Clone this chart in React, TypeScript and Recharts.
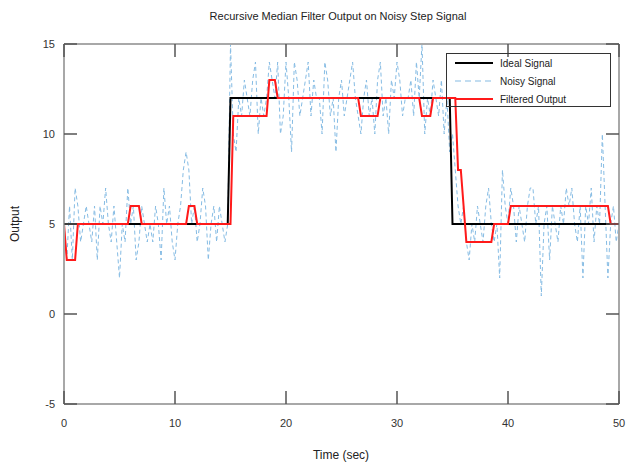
import React from 'react';
import { LineChart, Line, XAxis, YAxis, Legend } from 'recharts';

// ---- data ----
const SAMPLE_STEP = 0.25; // seconds between noisy samples

// noisy measurements, one per 0.25 s, t = 0 .. 50
const noisySignal: number[] = [
  // 0 - 15 s
  5, 3, 6, 3, 7, 6, 4, 5, 6, 5, 4, 6, 3, 6, 5, 7,
  5, 4, 6, 4, 2, 5, 4, 7, 5, 6, 3, 4, 6, 5, 4, 5,
  4, 6, 5, 3, 7, 5, 6, 4, 3, 5, 6, 8, 9, 8, 5, 6,
  4, 5, 7, 6, 3, 5, 6, 4, 6, 5, 4, 5,
  // 15 - 35 s
  15, 10, 9, 12, 11, 13, 12, 11, 13, 14, 10, 12, 11, 12, 14, 13,
  12, 14, 10, 11, 14, 12, 9, 14, 13, 11, 12, 13, 14, 11, 13, 12,
  12, 10, 14, 13, 11, 12, 9, 12, 13, 11, 12, 13, 14, 12, 11, 10,
  12, 13, 11, 12, 10, 13, 14, 11, 12, 10, 13, 12, 14, 13, 11, 12,
  12, 13, 11, 14, 12, 15, 10, 12, 11, 13, 12, 11, 13, 10, 12, 9,
  // 35 - 50 s
  10, 8, 6, 5, 6, 4, 3, 5, 4, 6, 5, 4, 6, 7, 5, 4,
  5, 2, 8, 6, 5, 7, 6, 4, 6, 5, 4, 6, 7, 7, 5, 6,
  1, 5, 6, 3, 6, 5, 4, 6, 5, 7, 6, 7, 5, 4, 6, 2,
  6, 5, 7, 4, 6, 5, 10, 6, 2, 5, 6, 4, 5,
];

const idealTimes = [0, 14.75, 15, 34.75, 35, 50];
const idealValues = [5, 5, 12, 12, 5, 5];

const filteredTimes = [
  0, 0.25, 1, 1.25, 5.75, 6, 6.75, 7, 11, 11.25, 11.75, 12, 15, 15.25, 18.25, 18.5,
  19, 19.25, 26.5, 26.75, 28.25, 28.5, 32, 32.25, 33, 33.25, 35.25, 35.5, 35.75,
  36.25, 38.5, 38.75, 40, 40.25, 49, 49.25, 50,
];
const filteredValues = [
  5, 3, 3, 5, 5, 6, 6, 5, 5, 6, 6, 5, 5, 11, 11, 13,
  13, 12, 12, 11, 11, 12, 12, 11, 11, 12, 12, 8, 8,
  4, 4, 5, 5, 6, 6, 5, 5,
];

const xTicks = [0, 10, 20, 30, 40, 50];
const yTicks = [-5, 0, 5, 10, 15];

const seriesNames = ['Ideal Signal', 'Noisy Signal', 'Filtered Output'];

// ---- derived tables ----
const noisyData = noisySignal.map((v, i) => ({ t: i * SAMPLE_STEP, v }));
const idealData = idealTimes.map((t, i) => ({ t, v: idealValues[i] }));
const filteredData = filteredTimes.map((t, i) => ({ t, v: filteredValues[i] }));

// ---- styles ----
const FONT = '"Liberation Sans", Arial, sans-serif';
const FRAME = '#a8a8a8';
const TICK_COLOR = '#555555';
const TICK_LEN = 13;
const LABEL_COLOR = '#333333';
const NOISY_COLOR = '#86bce4';
const IDEAL_COLOR = '#000000';
const FILTER_COLOR = '#ff1a1a';

const legendStyles: Record<string, { stroke: string; width: number; dash?: string }> = {
  'Ideal Signal': { stroke: IDEAL_COLOR, width: 2 },
  'Noisy Signal': { stroke: NOISY_COLOR, width: 1.2, dash: '6 4' },
  'Filtered Output': { stroke: FILTER_COLOR, width: 2 },
};

const BottomTick = (props: any) => {
  const { x, y, payload } = props;
  return (
    <g>
      <line x1={x} y1={y} x2={x} y2={y - TICK_LEN} stroke={TICK_COLOR} strokeWidth={1.5} />
      <text x={x} y={y + 23} textAnchor="middle" fontSize={11} fill={LABEL_COLOR} fontFamily={FONT}>
        {payload.value}
      </text>
    </g>
  );
};

const TopTick = (props: any) => {
  const { x, y } = props;
  return <line x1={x} y1={y} x2={x} y2={y + TICK_LEN} stroke={TICK_COLOR} strokeWidth={1.5} />;
};

const LeftTick = (props: any) => {
  const { x, y, payload } = props;
  return (
    <g>
      <line x1={x} y1={y} x2={x + TICK_LEN} y2={y} stroke={TICK_COLOR} strokeWidth={1.5} />
      <text x={x - 9} y={y + 4} textAnchor="end" fontSize={11} fill={LABEL_COLOR} fontFamily={FONT}>
        {payload.value}
      </text>
    </g>
  );
};

const RightTick = (props: any) => {
  const { x, y } = props;
  return <line x1={x} y1={y} x2={x - TICK_LEN} y2={y} stroke={TICK_COLOR} strokeWidth={1.5} />;
};

const renderLegend = () => (
  <div
    style={{
      width: 163,
      height: 52,
      border: '1px solid #333',
      fontFamily: FONT,
      fontSize: 10,
      color: '#222',
    }}
  >
    {seriesNames.map((name) => {
      const s = legendStyles[name];
      return (
        <div key={name} style={{ display: 'flex', alignItems: 'center', height: 18 }}>
          <svg width={50} height={10} style={{ display: 'block' }}>
            <line x1={8} x2={46} y1={5} y2={5} stroke={s.stroke} strokeWidth={s.width} strokeDasharray={s.dash} />
          </svg>
          <span style={{ marginLeft: 3 }}>{name}</span>
        </div>
      );
    })}
  </div>
);

export default function App() {
  return (
    <div style={{ position: 'absolute', left: 0, top: 0, width: 626, height: 466, fontFamily: FONT, background: '#fff' }}>
      <div
        style={{
          position: 'absolute', left: 50, width: 576, top: 10, textAlign: 'center',
          fontSize: 11, lineHeight: '13px', color: '#222',
        }}
      >
        Recursive Median Filter Output on Noisy Step Signal
      </div>
      <LineChart width={626} height={466} margin={{ top: 0, right: 0, bottom: 0, left: 0 }}>
        <XAxis
          xAxisId="bottom"
          dataKey="t"
          type="number"
          domain={[0, 50]}
          ticks={xTicks}
          allowDataOverflow
          orientation="bottom"
          height={62}
          tickSize={0}
          tickMargin={0}
          tick={<BottomTick />}
          axisLine={{ stroke: FRAME, strokeWidth: 2 }}
          interval={0}
        />
        <XAxis
          xAxisId="top"
          dataKey="t"
          type="number"
          domain={[0, 50]}
          ticks={xTicks}
          allowDataOverflow
          orientation="top"
          height={44}
          tickSize={0}
          tickMargin={0}
          tick={<TopTick />}
          axisLine={{ stroke: FRAME, strokeWidth: 2 }}
          interval={0}
        />
        <YAxis
          yAxisId="left"
          type="number"
          domain={[-5, 15]}
          ticks={yTicks}
          allowDataOverflow
          orientation="left"
          width={64}
          tickSize={0}
          tickMargin={0}
          tick={<LeftTick />}
          axisLine={{ stroke: FRAME, strokeWidth: 2 }}
          interval={0}
        />
        <YAxis
          yAxisId="right"
          type="number"
          domain={[-5, 15]}
          ticks={yTicks}
          allowDataOverflow
          orientation="right"
          width={7}
          tickSize={0}
          tickMargin={0}
          tick={<RightTick />}
          axisLine={{ stroke: FRAME, strokeWidth: 2 }}
          interval={0}
        />
        <Line
          xAxisId="bottom"
          yAxisId="left"
          data={noisyData}
          dataKey="v"
          name="Noisy Signal"
          type="linear"
          stroke={NOISY_COLOR}
          strokeWidth={1}
          strokeDasharray="4 3"
          dot={false}
          activeDot={false}
          isAnimationActive={false}
        />
        <Line
          xAxisId="bottom"
          yAxisId="left"
          data={idealData}
          dataKey="v"
          name="Ideal Signal"
          type="linear"
          stroke={IDEAL_COLOR}
          strokeWidth={2}
          dot={false}
          activeDot={false}
          isAnimationActive={false}
        />
        <Line
          xAxisId="bottom"
          yAxisId="left"
          data={filteredData}
          dataKey="v"
          name="Filtered Output"
          type="linear"
          stroke={FILTER_COLOR}
          strokeWidth={2}
          dot={false}
          activeDot={false}
          isAnimationActive={false}
        />
        <Legend
          layout="vertical"
          align="center"
          verticalAlign="middle"
          content={renderLegend}
          wrapperStyle={{ left: 446, top: 53, width: 165, height: 54 }}
        />
      </LineChart>
      <div
        style={{
          position: 'absolute', left: 241, width: 200, top: 448, textAlign: 'center',
          fontSize: 12, lineHeight: '14px', color: '#222',
        }}
      >
        Time (sec)
      </div>
      <div
        style={{
          position: 'absolute', left: -15, top: 217, width: 60, textAlign: 'center',
          fontSize: 12, lineHeight: '14px', color: '#222', transform: 'rotate(-90deg)',
        }}
      >
        Output
      </div>
    </div>
  );
}
